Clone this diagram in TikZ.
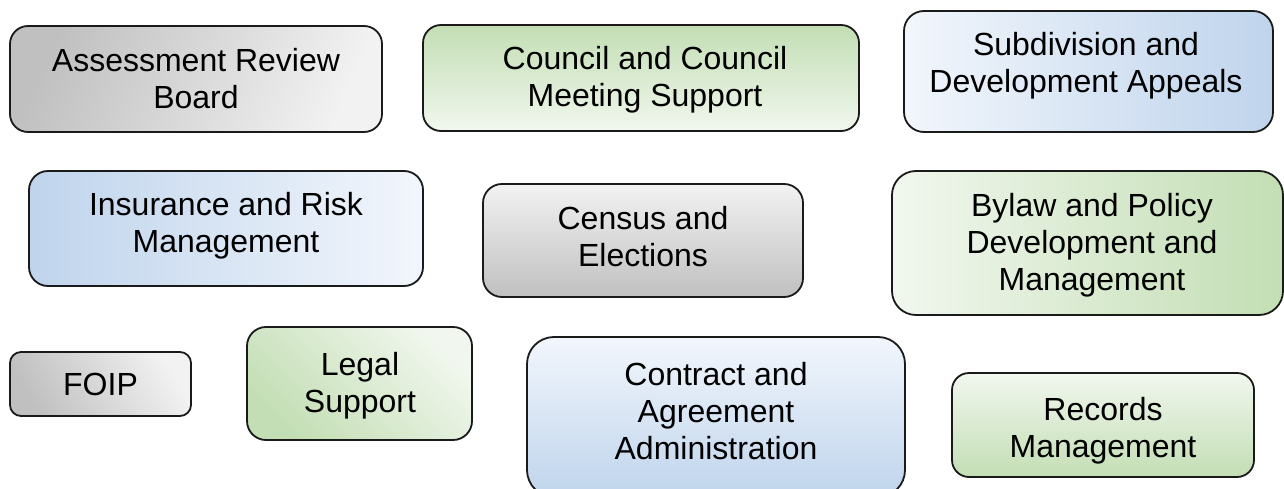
\documentclass[tikz,border=0pt]{standalone}
\usepackage{fontspec}
\setmainfont{Liberation Sans}
\definecolor{gdark}{HTML}{C0C0C0}
\definecolor{glight}{HTML}{F2F2F2}
\definecolor{grdark}{HTML}{C3DEB4}
\definecolor{grlight}{HTML}{F1F7EE}
\definecolor{bldark}{HTML}{BFD4EC}
\definecolor{bllight}{HTML}{F2F6FC}
\definecolor{edge}{HTML}{1A1A1A}
\tikzset{
  box/.style={draw=edge, line width=1.8pt, rounded corners=#1, inner sep=0pt, outer sep=0pt},
  lbl/.style={inner sep=0pt, align=center, text depth=0pt, font=\fontsize{32}{37}\selectfont},
}
\begin{document}
\begin{tikzpicture}[x=1pt,y=-1pt]
\useasboundingbox (0,0) rectangle (1284,489);
\clip (0,0) rectangle (1284,489);
% row 1
\node[box=18, minimum width=372, minimum height=106, top color=gdark, bottom color=glight, shading angle=65] (b1) at (196,79) {};
\node[lbl] (t1) at (196,78) {Assessment Review\\Board};
\node[box=18, minimum width=436, minimum height=106, top color=grdark, bottom color=grlight] (b2) at (641,78) {};
\node[lbl] (t2) at (645,76.5) {Council and Council\\Meeting Support};
\node[box=20, minimum width=369, minimum height=121, left color=bllight, right color=bldark] (b3) at (1088.5,71.5) {};
\node[lbl] (t3) at (1086,62) {Subdivision and\\Development Appeals};
% row 2
\node[box=19, minimum width=394, minimum height=115, left color=bldark, right color=bllight] (b4) at (226,228.5) {};
\node[lbl] (t4) at (226,222) {Insurance and Risk\\Management};
\node[box=19, minimum width=320, minimum height=113, top color=glight, bottom color=gdark] (b5) at (643,240.5) {};
\node[lbl] (t5) at (643,236) {Census and\\Elections};
\node[box=24, minimum width=391, minimum height=144, left color=grlight, right color=grdark] (b6) at (1087.5,243) {};
\node[lbl] (t6) at (1092,242) {Bylaw and Policy\\Development and\\Management};
% row 3
\node[box=11, minimum width=181, minimum height=64, top color=glight, bottom color=gdark, shading angle=-60] (b7) at (100.5,384) {};
\node[lbl] (t7) at (100.5,384) {FOIP};
\node[box=19, minimum width=225, minimum height=113, top color=grlight, bottom color=grdark, shading angle=-45] (b8) at (359.5,383.5) {};
\node[lbl] (t8) at (360,382) {Legal\\Support};
\node[box=27, minimum width=378, minimum height=160, top color=bllight, bottom color=bldark] (b9) at (716,417) {};
\node[lbl] (t9) at (716,411) {Contract and\\Agreement\\Administration};
\node[box=17, minimum width=302, minimum height=104, top color=grlight, bottom color=grdark] (b10) at (1103,425) {};
\node[lbl] (t10) at (1103,427) {Records\\Management};
\end{tikzpicture}
\end{document}
